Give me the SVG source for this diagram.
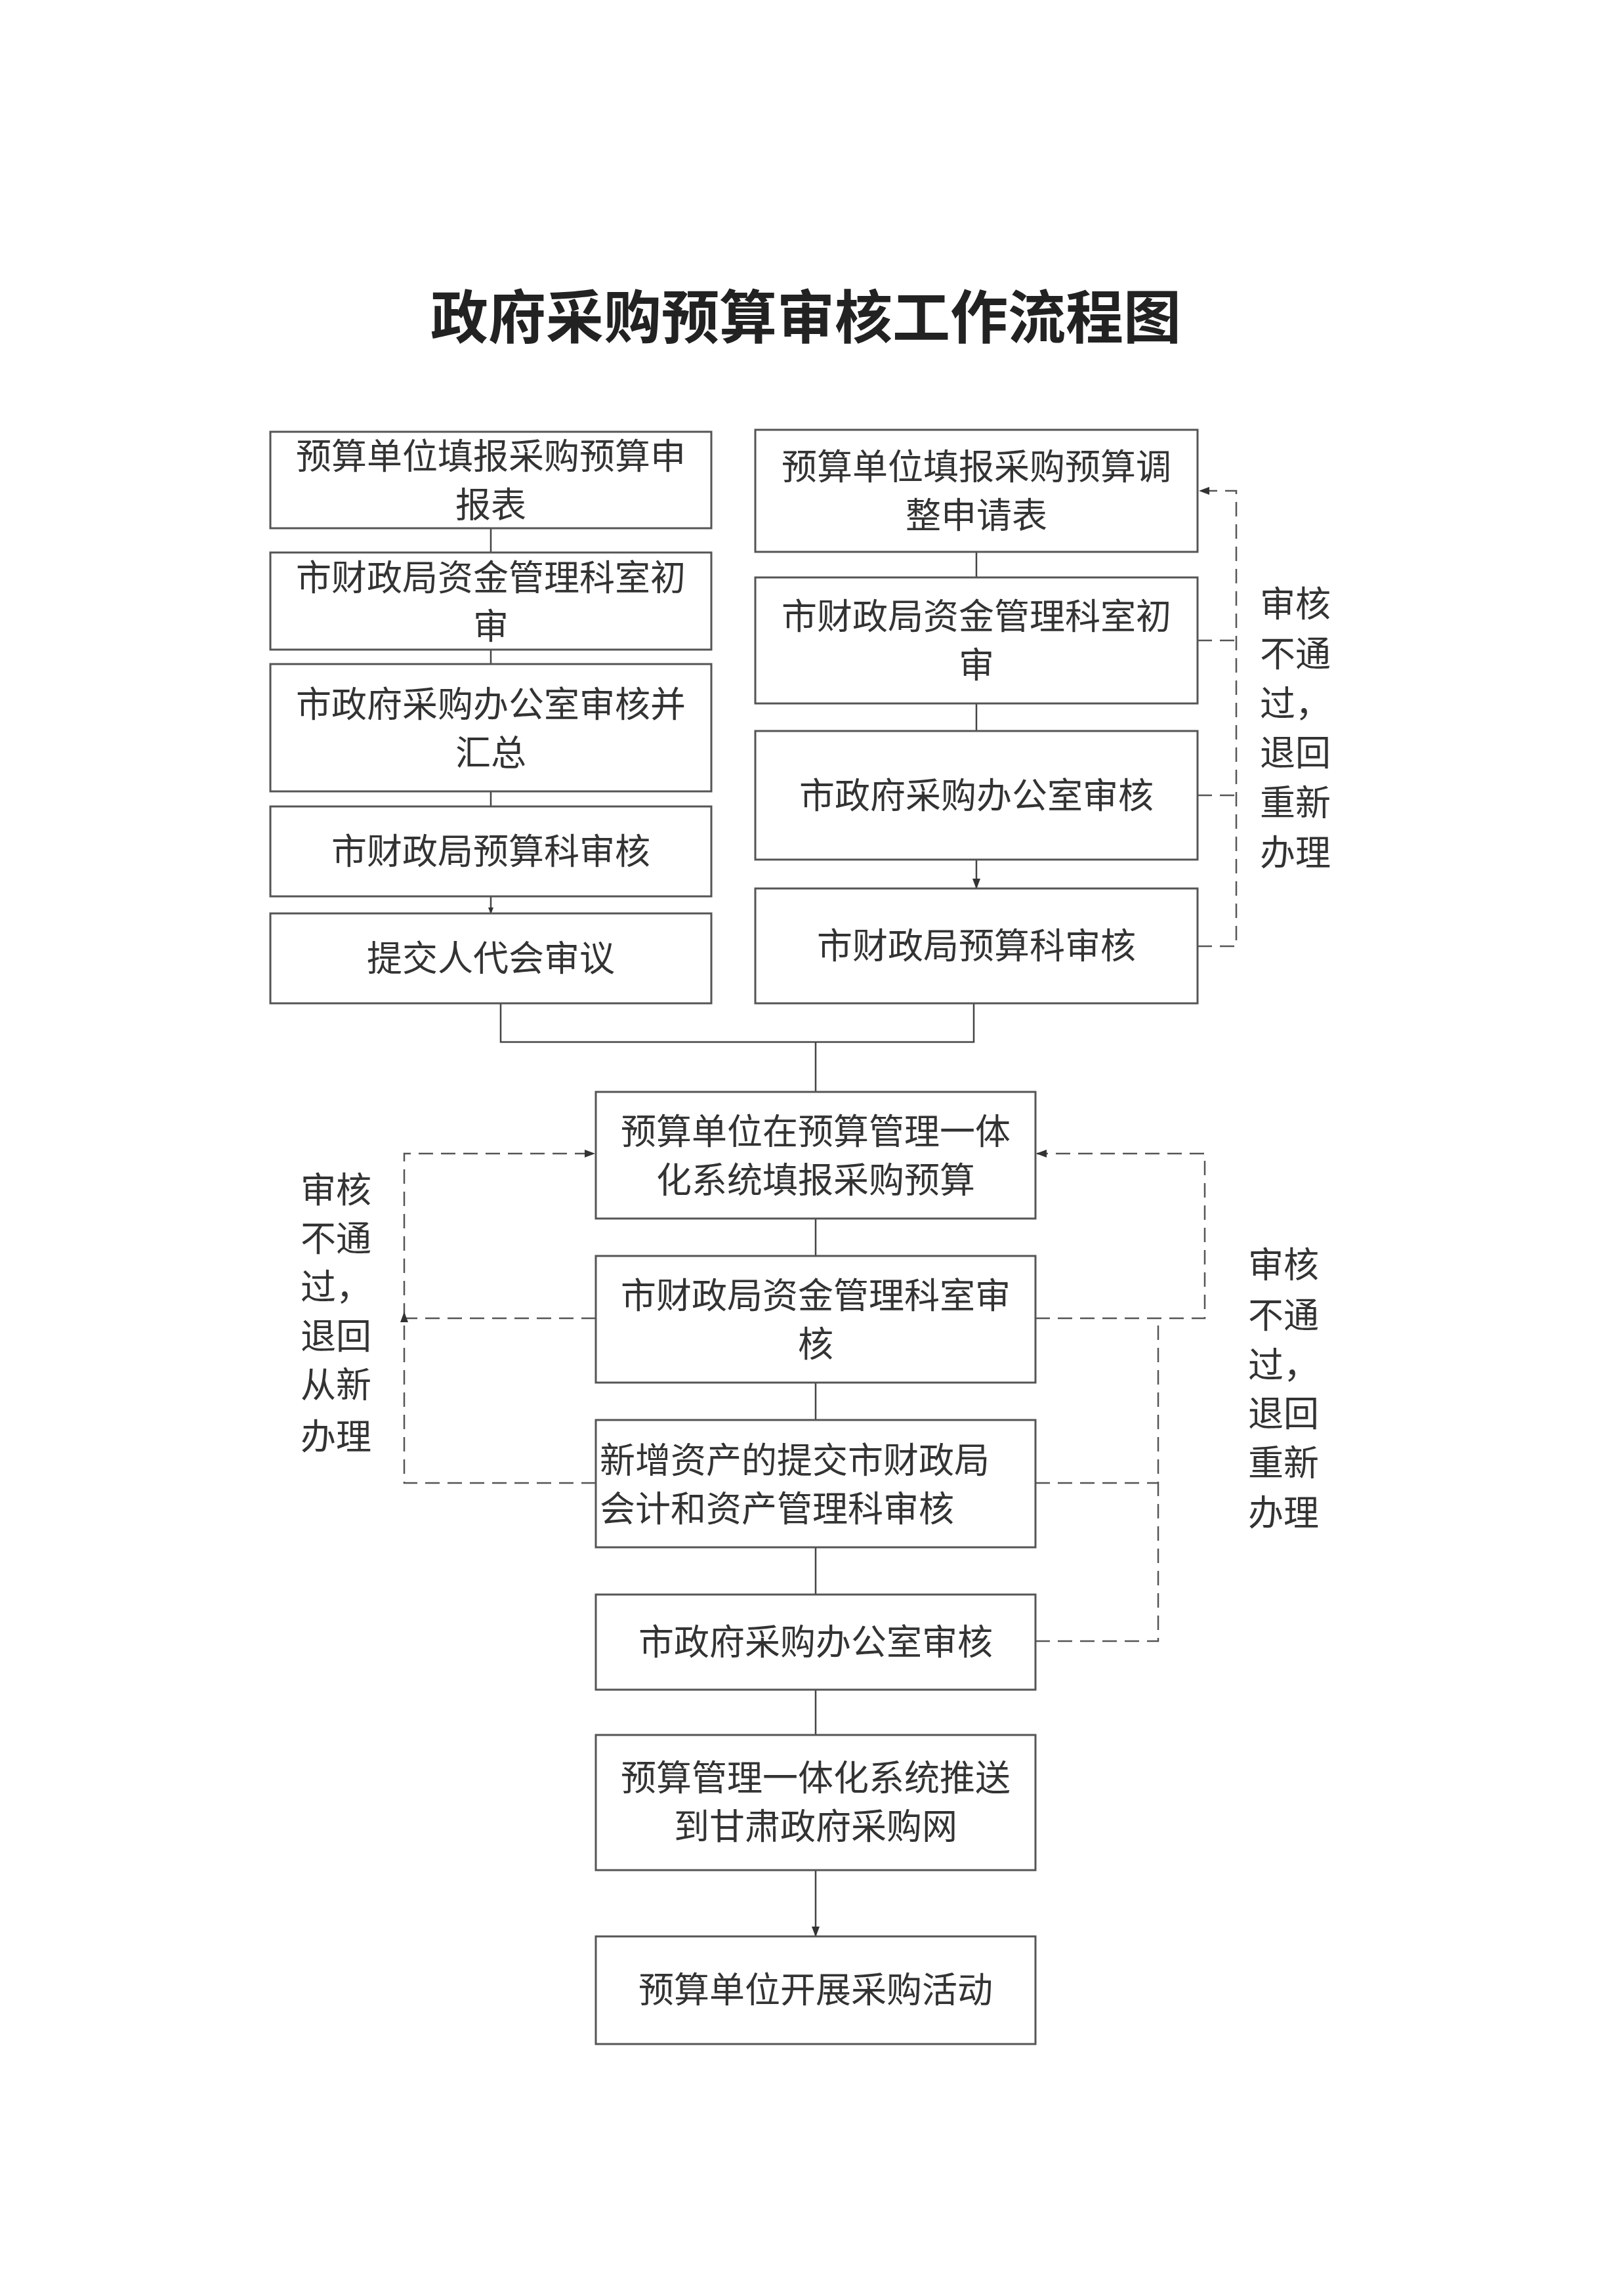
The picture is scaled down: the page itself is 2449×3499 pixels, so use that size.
<svg xmlns="http://www.w3.org/2000/svg" width="2449" height="3499" viewBox="0 0 2449 3499">
<style>
.b{fill:#fff;stroke:#555;stroke-width:3}
.t{font-family:"Noto Sans CJK SC",sans-serif;font-size:54px;fill:#333;text-anchor:middle}
.l{font-family:"Noto Sans CJK SC",sans-serif;font-size:54px;fill:#333}
.c{fill:none;stroke:#444;stroke-width:2.5}
.d{fill:none;stroke:#555;stroke-width:2.5;stroke-dasharray:22 12}
</style>
<defs><marker id="a" markerWidth="10" markerHeight="10" refX="9" refY="5" orient="auto" markerUnits="userSpaceOnUse" viewBox="0 0 10 10"><path d="M0,1L10,5L0,9z" fill="#333"/></marker>
<marker id="a2" markerWidth="16" markerHeight="16" refX="15" refY="8" orient="auto" markerUnits="userSpaceOnUse" viewBox="0 0 16 16"><path d="M0,2L16,8L0,14z" fill="#333"/></marker></defs>
<rect width="2449" height="3499" fill="#fff"/>
<text x="1228" y="515" style="font-family:'Noto Sans CJK SC',sans-serif;font-size:88px;font-weight:bold;fill:#222;text-anchor:middle">政府采购预算审核工作流程图</text>
<g id="connectors">
<path class="c" marker-end="url(#a)" d="M748,805V842M748,990V1012M748,1206V1229M748,1366V1392"/>
<path class="c" marker-end="url(#a2)" d="M1488,841V880M1488,1072V1114M1488,1310V1354"/>
<path class="c" d="M763,1529V1588H1484V1529"/>
<path class="c" marker-end="url(#a2)" d="M1243,1588V1664M1243,1857V1914M1243,2107V2164M1243,2358V2430M1243,2575V2644M1243,2850V2951"/>
<path class="d" marker-end="url(#a2)" d="M1825,1442H1884V748H1828"/>
<path class="d" d="M1825,976H1884M1825,1212H1884"/>
<path class="d" marker-end="url(#a2)" d="M908,2260H616V1758H906"/>
<path class="d" marker-end="url(#a2)" d="M908,2009H616V2000"/>
<path class="d" marker-end="url(#a2)" d="M1578,2009H1836V1758H1580"/>
<path class="d" d="M1578,2501H1765V2009M1578,2260H1765"/>
</g>
<g id="L1"><rect class="b" x="412" y="658" width="672" height="147"/><text class="t" x="748" y="715">预算单位填报采购预算申</text><text class="t" x="748" y="789">报表</text></g>
<g id="L2"><rect class="b" x="412" y="842" width="672" height="148"/><text class="t" x="748" y="900">市财政局资金管理科室初</text><text class="t" x="748" y="974">审</text></g>
<g id="L3"><rect class="b" x="412" y="1012" width="672" height="194"/><text class="t" x="748" y="1093">市政府采购办公室审核并</text><text class="t" x="748" y="1167">汇总</text></g>
<g id="L4"><rect class="b" x="412" y="1229" width="672" height="137"/><text class="t" x="748" y="1317">市财政局预算科审核</text></g>
<g id="L5"><rect class="b" x="412" y="1392" width="672" height="137"/><text class="t" x="748" y="1480">提交人代会审议</text></g>
<g id="R1"><rect class="b" x="1151" y="655" width="674" height="186"/><text class="t" x="1488" y="731">预算单位填报采购预算调</text><text class="t" x="1488" y="805">整申请表</text></g>
<g id="R2"><rect class="b" x="1151" y="880" width="674" height="192"/><text class="t" x="1488" y="959">市财政局资金管理科室初</text><text class="t" x="1488" y="1033">审</text></g>
<g id="R3"><rect class="b" x="1151" y="1114" width="674" height="196"/><text class="t" x="1488" y="1232">市政府采购办公室审核</text></g>
<g id="R4"><rect class="b" x="1151" y="1354" width="674" height="175"/><text class="t" x="1488" y="1461">市财政局预算科审核</text></g>
<g id="RL"><text class="l" x="1920" y="940">审核</text><text class="l" x="1920" y="1016">不通</text><text class="l" x="1920" y="1092">过，</text><text class="l" x="1920" y="1167">退回</text><text class="l" x="1920" y="1243">重新</text><text class="l" x="1920" y="1319">办理</text></g>
<g id="A"><rect class="b" x="908" y="1664" width="670" height="193"/><text class="t" x="1243" y="1744">预算单位在预算管理一体</text><text class="t" x="1243" y="1818">化系统填报采购预算</text></g>
<g id="B"><rect class="b" x="908" y="1914" width="670" height="193"/><text class="t" x="1243" y="1994">市财政局资金管理科室审</text><text class="t" x="1243" y="2068">核</text></g>
<g id="C"><rect class="b" x="908" y="2164" width="670" height="194"/><text class="l" x="914" y="2245">新增资产的提交市财政局</text><text class="l" x="914" y="2319">会计和资产管理科审核</text></g>
<g id="D"><rect class="b" x="908" y="2430" width="670" height="145"/><text class="t" x="1243" y="2522">市政府采购办公室审核</text></g>
<g id="E"><rect class="b" x="908" y="2644" width="670" height="206"/><text class="t" x="1243" y="2729">预算管理一体化系统推送</text><text class="t" x="1243" y="2803">到甘肃政府采购网</text></g>
<g id="F"><rect class="b" x="908" y="2951" width="670" height="164"/><text class="t" x="1243" y="3052">预算单位开展采购活动</text></g>
<g id="LL"><text class="l" x="458" y="1833">审核</text><text class="l" x="458" y="1907">不通</text><text class="l" x="458" y="1981">过，</text><text class="l" x="458" y="2056">退回</text><text class="l" x="458" y="2130">从新</text><text class="l" x="458" y="2209">办理</text></g>
<g id="ML"><text class="l" x="1902" y="1947">审核</text><text class="l" x="1902" y="2024">不通</text><text class="l" x="1902" y="2100">过，</text><text class="l" x="1902" y="2174">退回</text><text class="l" x="1902" y="2249">重新</text><text class="l" x="1902" y="2325">办理</text></g>
</svg>
